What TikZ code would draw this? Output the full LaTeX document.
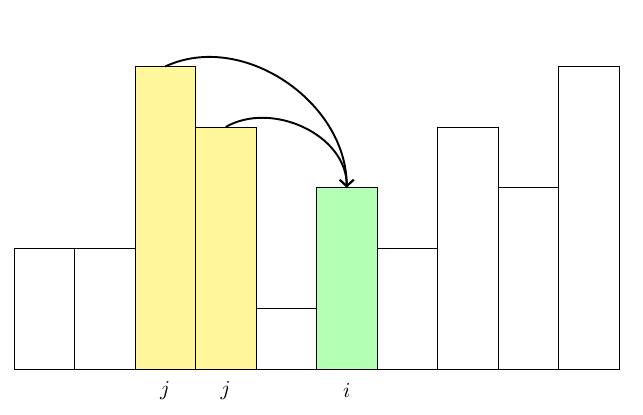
\documentclass[tikz,border=0pt]{standalone}
\usetikzlibrary{arrows.meta}
\definecolor{baryellow}{RGB}{255,247,153}
\definecolor{bargreen}{RGB}{179,255,179}
\begin{document}
\begin{tikzpicture}[x=1cm,y=1cm,
  bar/.style={draw=black, line width=0.4pt, inner sep=0pt, outer sep=0pt, minimum width=1cm, anchor=south west},
  lbl/.style={inner sep=0pt},
  jump/.style={line width=0.9pt, -{Straight Barb[width=6.5pt,length=3pt]}}]
\useasboundingbox (-0.231,-0.76) rectangle (10.397,6.099);
\foreach \i/\h/\c in {1/2/white,2/2/white,3/5/baryellow,4/4/baryellow,5/1/white,6/3/bargreen,7/2/white,8/4/white,9/3/white,10/5/white}{
  \node[bar, fill=\c, minimum height=\h cm] (b\i) at (\i-1,0) {};
}
\node[lbl] (l3) at (2.5,-0.35) {$j$};
\node[lbl] (l4) at (3.5,-0.35) {$j$};
\node[lbl] (l6) at (5.5,-0.35) {$i$};
\draw[jump] (b3.north) to[out=25,in=90,looseness=1.0] (b6.north);
\draw[jump] (b4.north) to[out=30,in=90,looseness=1.0] (b6.north);
\end{tikzpicture}
\end{document}
